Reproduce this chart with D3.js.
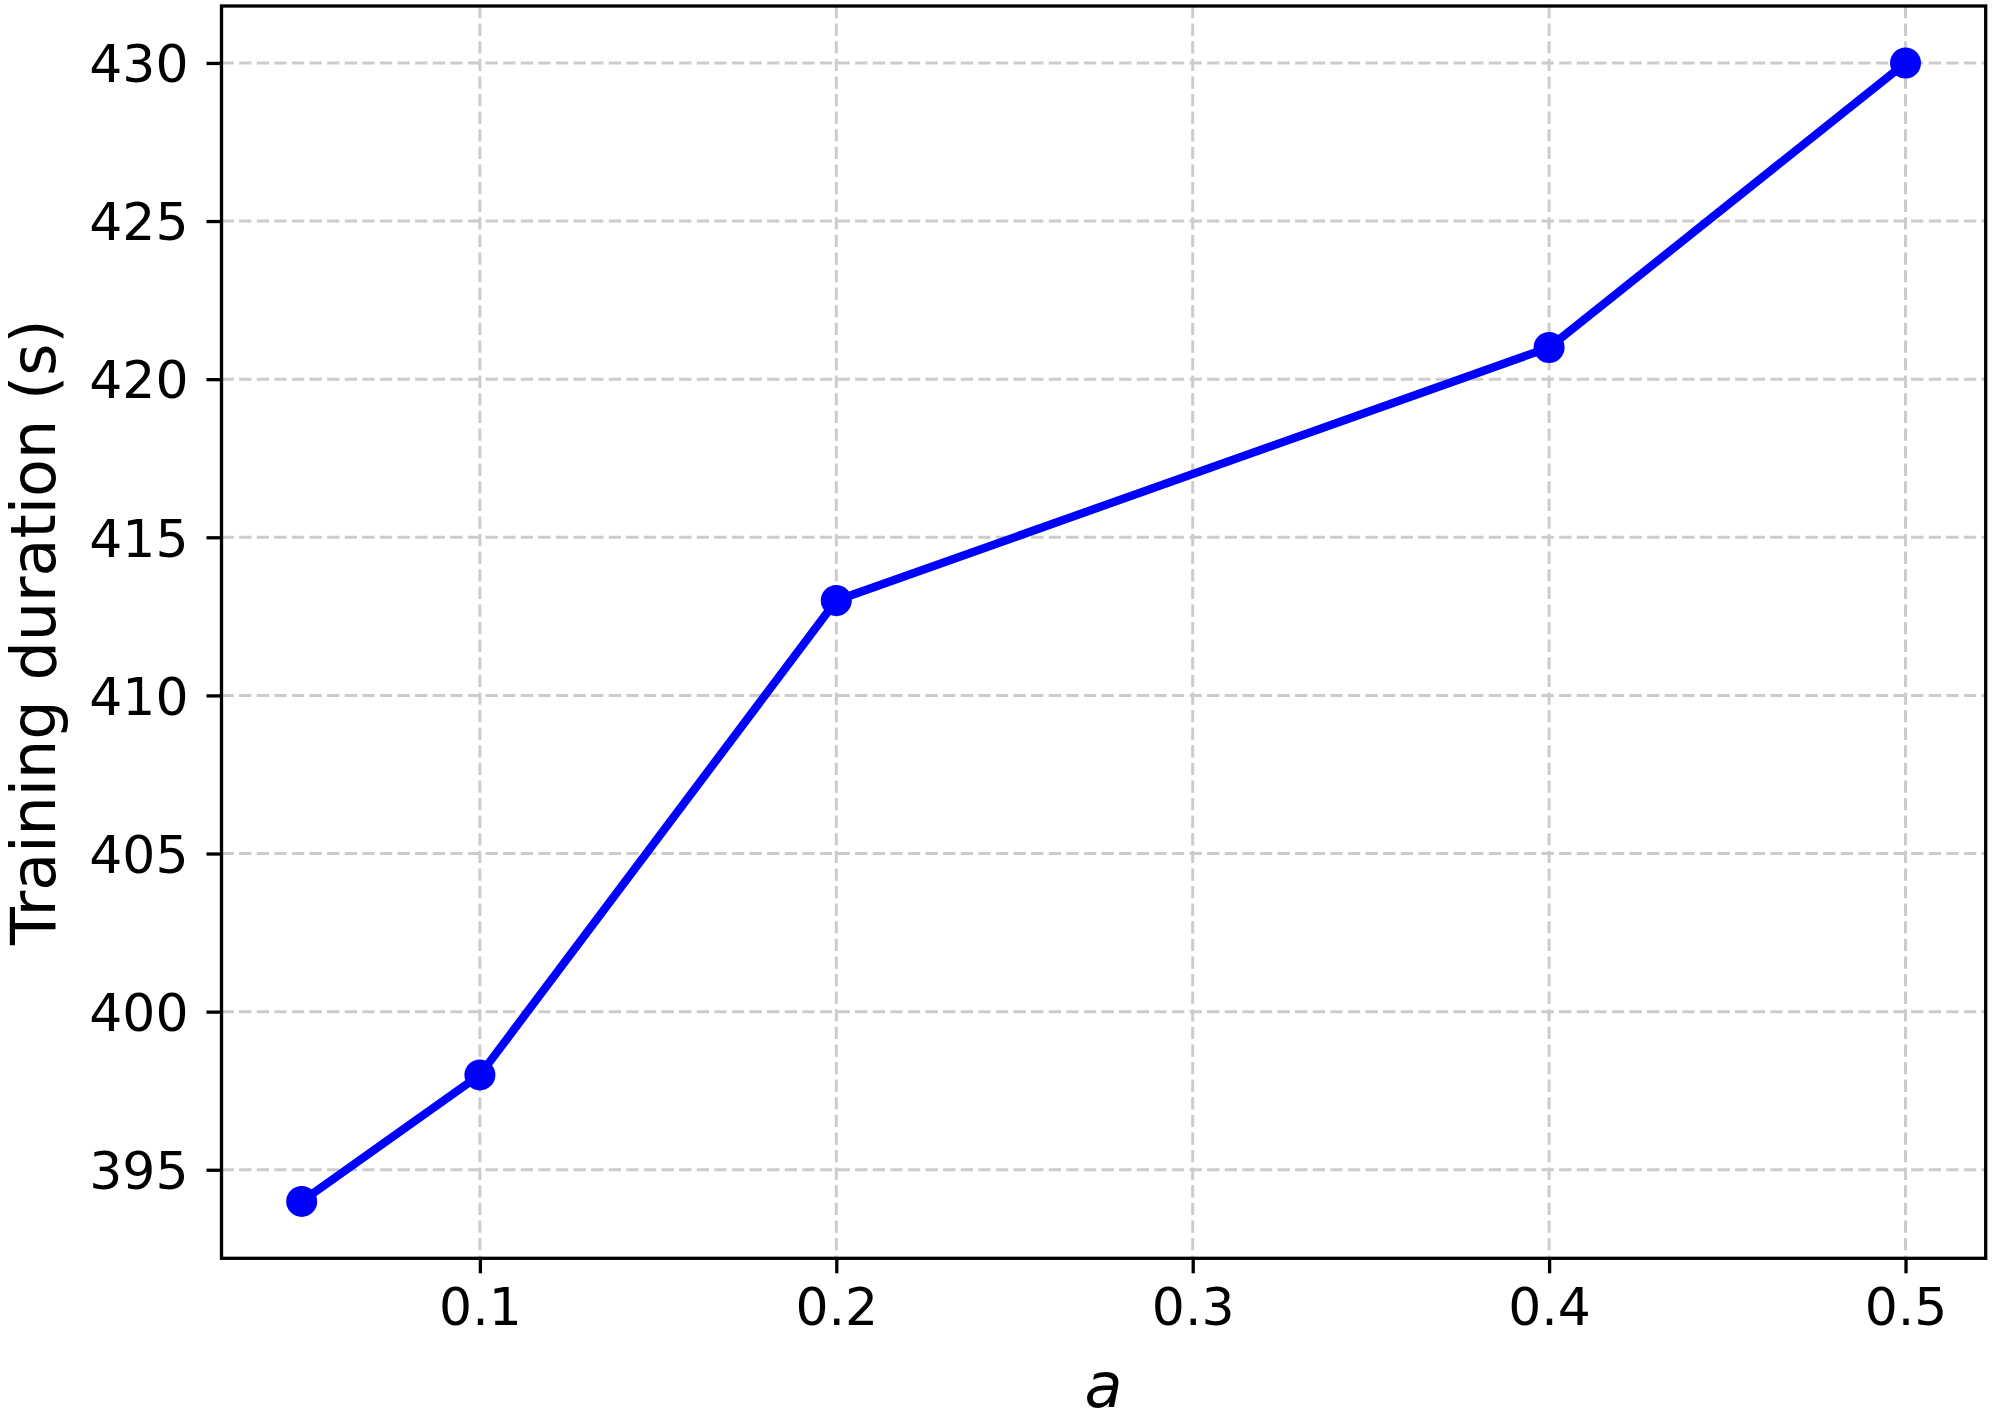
<!DOCTYPE html>
<html>
<head>
<meta charset="utf-8">
<script src="https://cdn.jsdelivr.net/npm/d3@7"></script>
<style>
html,body{margin:0;padding:0;background:#fff;}
svg{display:block;font-family:"DejaVu Sans",sans-serif;}
</style>
</head>
<body>
<svg id="chart" width="1993" height="1417"></svg>
<script>
const xValues = [0.05, 0.1, 0.2, 0.4, 0.5];
const durations = [394, 398, 413, 421, 430];
const xTicks = [0.1, 0.2, 0.3, 0.4, 0.5];
const yTicks = [395, 400, 405, 410, 415, 420, 425, 430];
const xLabel = "a";
const yLabel = "Training duration (s)";

const svg = d3.select("#chart");
const L = 221.5, R = 1985.7, T = 6, B = 1258.3;

const x = d3.scaleLinear().domain([0.0275, 0.5225]).range([L, R]);
const y = d3.scaleLinear().domain([392.2, 431.8]).range([B, T]);

// grid
const grid = svg.append("g");
grid.selectAll("line.gx").data(xTicks).join("line")
  .attr("x1", d => x(d)).attr("x2", d => x(d)).attr("y1", T).attr("y2", B)
  .attr("stroke", "#cccccc").attr("stroke-width", 3).attr("stroke-dasharray", "12.3,5.3");
grid.selectAll("line.gy").data(yTicks).join("line")
  .attr("y1", d => y(d)).attr("y2", d => y(d)).attr("x1", L).attr("x2", R)
  .attr("stroke", "#cccccc").attr("stroke-width", 3).attr("stroke-dasharray", "12.3,5.3");

// axes
const xAxis = d3.axisBottom(x).tickValues(xTicks).tickFormat(d3.format(".1f")).tickSize(15).tickPadding(15);
const yAxis = d3.axisLeft(y).tickValues(yTicks).tickFormat(d3.format("d")).tickSize(15).tickPadding(18);
const gx = svg.append("g").attr("transform", `translate(0,${B})`).call(xAxis);
const gy = svg.append("g").attr("transform", `translate(${L},0)`).call(yAxis);
[gx, gy].forEach(g => {
  g.select(".domain").remove();
  g.selectAll(".tick line").attr("stroke", "#000").attr("stroke-width", 3.3);
  g.selectAll(".tick text").attr("fill", "#000").style("font-size", "52px").style("font-family", "DejaVu Sans");
});
gx.selectAll(".tick text").attr("dy", "0.71em");
gy.selectAll(".tick text").attr("dy", "0.36em");

// line and markers
const line = d3.line().x((d, i) => x(xValues[i])).y(d => y(d));
svg.append("path").datum(durations).attr("d", line)
  .attr("fill", "none").attr("stroke", "#0000ff").attr("stroke-width", 8.3).attr("stroke-linejoin", "round");
svg.selectAll("circle.pt").data(durations).join("circle")
  .attr("cx", (d, i) => x(xValues[i])).attr("cy", d => y(d)).attr("r", 15.5).attr("fill", "#0000ff");

// frame
svg.append("rect").attr("x", L).attr("y", T).attr("width", R - L).attr("height", B - T)
  .attr("fill", "none").attr("stroke", "#000").attr("stroke-width", 3.3);

// labels
svg.append("text").attr("x", (L + R) / 2).attr("y", 1407).attr("text-anchor", "middle")
  .style("font-size", "62px").style("font-style", "italic").text(xLabel);
svg.append("text").attr("transform", `translate(55,${(T + B) / 2}) rotate(-90)`).attr("text-anchor", "middle")
  .style("font-size", "62px").text(yLabel);
</script>
</body>
</html>
